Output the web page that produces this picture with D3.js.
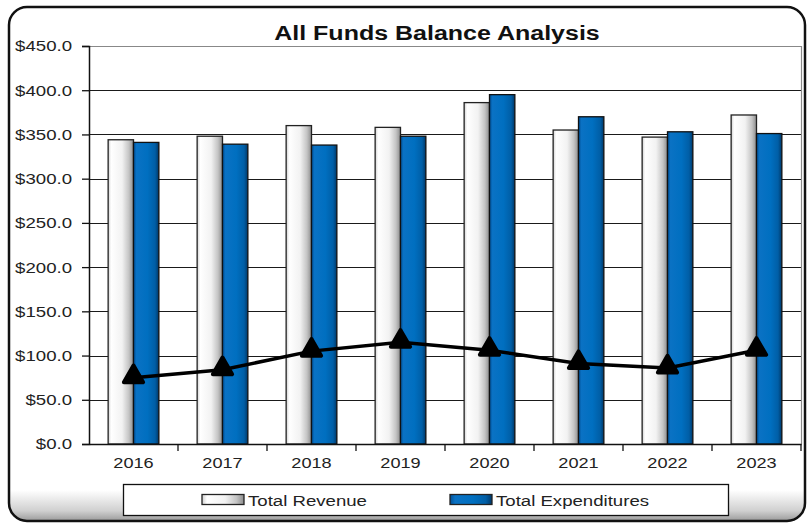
<!DOCTYPE html>
<html>
<head>
<meta charset="utf-8">
<script src="https://cdn.jsdelivr.net/npm/d3@7"></script>
<style>
  body { margin: 0; background: #fff; }
  svg { display: block; font-family: "Liberation Sans", Arial, sans-serif; }
</style>
</head>
<body>
<div id="chart"></div>
<script>
// Chart values
const years = ["2016", "2017", "2018", "2019", "2020", "2021", "2022", "2023"];
const revenue = [344, 348, 360, 358, 386, 355, 347, 372];
const expenditures = [341, 339, 338, 348, 395, 370, 353, 351];
const balance = [75, 84, 105, 115, 106, 91, 86, 106];
const seriesNames = ["Total Revenue", "Total Expenditures"];
const yTicks = [0, 50, 100, 150, 200, 250, 300, 350, 400, 450];

const width = 809, height = 525;
const plot = {left: 89, right: 801, top: 46, bottom: 444};

// stretch text sideways like the original picture
const stretch = function(sel, k) {
  sel.each(function() {
    let w = this.getComputedTextLength();
    d3.select(this).attr("textLength", w * k).attr("lengthAdjust", "spacingAndGlyphs");
  });
};

const svg = d3.select("#chart").append("svg")
  .attr("width", width)
  .attr("height", height);

const defs = svg.append("defs");
// cylinder-like shading for the bars
const gradRev = defs.append("linearGradient").attr("id", "gradRev");
[["0%", "#cfcfcf"], ["12%", "#ffffff"], ["55%", "#f2f2f2"], ["82%", "#c4c4c4"], ["100%", "#8c8c8c"]]
  .forEach(s => gradRev.append("stop").attr("offset", s[0]).attr("stop-color", s[1]));
const gradExp = defs.append("linearGradient").attr("id", "gradExp");
[["0%", "#004f96"], ["12%", "#0a72c4"], ["55%", "#006fc0"], ["85%", "#005ea6"], ["100%", "#003868"]]
  .forEach(s => gradExp.append("stop").attr("offset", s[0]).attr("stop-color", s[1]));
const gradFrame = defs.append("linearGradient").attr("id", "gradFrame")
  .attr("x1", 0).attr("y1", 0).attr("x2", 0).attr("y2", 1);
[["0%", "#ffffff"], ["94%", "#ffffff"], ["98%", "#d0d0d0"], ["100%", "#9a9a9a"]]
  .forEach(s => gradFrame.append("stop").attr("offset", s[0]).attr("stop-color", s[1]));

// outer rounded frame
svg.append("rect")
  .attr("x", 9).attr("y", 7)
  .attr("width", 796).attr("height", 514)
  .attr("rx", 18).attr("ry", 18)
  .attr("fill", "url(#gradFrame)")
  .attr("stroke", "#111")
  .attr("stroke-width", 2.5);

// title
svg.append("text")
  .attr("x", 437).attr("y", 40)
  .attr("text-anchor", "middle")
  .style("font-size", "20px")
  .style("font-weight", "bold")
  .attr("fill", "#111")
  .text("All Funds Balance Analysis")
  .call(stretch, 1.25);

// scales
const x0 = d3.scaleBand()
  .domain(years)
  .range([plot.left, plot.right])
  .paddingInner(0.43)
  .paddingOuter(0.215);
const x1 = d3.scaleBand()
  .domain(seriesNames)
  .range([0, x0.bandwidth()]);
const y = d3.scaleLinear()
  .domain([0, 450])
  .range([plot.bottom, plot.top]);

// gridlines
svg.append("g")
  .selectAll("line")
  .data(yTicks.filter(d => d > 0 && d < 450))
  .join("line")
  .attr("x1", plot.left).attr("x2", plot.right)
  .attr("y1", d => Math.round(y(d)) + 0.5).attr("y2", d => Math.round(y(d)) + 0.5)
  .attr("stroke", "#1a1a1a")
  .attr("stroke-width", 1.2);
// plot border top / right
svg.append("path")
  .attr("d", `M${plot.left},${y(450) + 0.5}H${plot.right + 0.5}V${plot.bottom}`)
  .attr("fill", "none")
  .attr("stroke", "#888")
  .attr("stroke-width", 1.2);

// bars
const groups = svg.append("g")
  .selectAll("g")
  .data(years)
  .join("g")
  .attr("transform", d => `translate(${x0(d)},0)`);
groups.append("rect")
  .attr("x", x1("Total Revenue"))
  .attr("y", (d, i) => y(revenue[i]))
  .attr("width", x1.bandwidth())
  .attr("height", (d, i) => y(0) - y(revenue[i]))
  .attr("fill", "url(#gradRev)")
  .attr("stroke", "#222")
  .attr("stroke-width", 1.3);
groups.append("rect")
  .attr("x", x1("Total Expenditures"))
  .attr("y", (d, i) => y(expenditures[i]))
  .attr("width", x1.bandwidth())
  .attr("height", (d, i) => y(0) - y(expenditures[i]))
  .attr("fill", "url(#gradExp)")
  .attr("stroke", "#111")
  .attr("stroke-width", 1.3);

// y axis
const yAxis = svg.append("g")
  .attr("transform", `translate(${plot.left},0)`)
  .call(d3.axisLeft(y).tickValues(yTicks).tickSize(7).tickPadding(10)
    .tickFormat(d => "$" + d3.format(".1f")(d)));
yAxis.select(".domain").attr("stroke", "#111").attr("stroke-width", 1.5);
yAxis.selectAll(".tick line").attr("stroke", "#111").attr("stroke-width", 1.3);
yAxis.selectAll("text")
  .style("font-size", "15.5px")
  .attr("fill", "#222")
  .call(stretch, 1.2);

// x axis
const xAxis = svg.append("g")
  .attr("transform", `translate(0,${plot.bottom})`)
  .call(d3.axisBottom(x0).tickSize(0).tickPadding(13));
xAxis.select(".domain").attr("stroke", "#111").attr("stroke-width", 1.5);
xAxis.selectAll("text")
  .style("font-size", "15.5px")
  .attr("fill", "#222")
  .call(stretch, 1.17);
// category separator ticks
xAxis.selectAll(".sep")
  .data(years)
  .join("line")
  .attr("class", "sep")
  .attr("x1", d => x0(d) - x0.step() * x0.paddingOuter() + x0.step())
  .attr("x2", d => x0(d) - x0.step() * x0.paddingOuter() + x0.step())
  .attr("y1", 0).attr("y2", 7)
  .attr("stroke", "#111")
  .attr("stroke-width", 1.3);

// balance line with triangle markers
const line = d3.line()
  .x((d, i) => x0(years[i]) + x0.bandwidth() / 2)
  .y(d => y(d));
svg.append("path")
  .attr("d", line(balance))
  .attr("fill", "none")
  .attr("stroke", "#000")
  .attr("stroke-width", 3.5);
svg.append("g")
  .selectAll("path")
  .data(balance)
  .join("path")
  .attr("transform", (d, i) => `translate(${x0(years[i]) + x0.bandwidth() / 2},${y(d) - 1})`)
  .attr("d", d3.symbol(d3.symbolTriangle, 160))
  .attr("fill", "#000")
  .attr("stroke", "#000")
  .attr("stroke-width", 4)
  .attr("stroke-linejoin", "round");

// legend
const legend = svg.append("g");
legend.append("rect")
  .attr("x", 123.5).attr("y", 484.5)
  .attr("width", 605).attr("height", 31)
  .attr("fill", "#fff")
  .attr("stroke", "#111")
  .attr("stroke-width", 1.3);
const legendX = [202, 450];
const legendFill = ["url(#gradRev)", "url(#gradExp)"];
seriesNames.forEach((name, i) => {
  legend.append("rect")
    .attr("x", legendX[i]).attr("y", 494.5)
    .attr("width", 42).attr("height", 10)
    .attr("fill", legendFill[i])
    .attr("stroke", "#222")
    .attr("stroke-width", 1.3);
  legend.append("text")
    .attr("x", legendX[i] + 46).attr("y", 505.5)
    .style("font-size", "15.5px")
    .attr("fill", "#222")
    .text(name)
    .call(stretch, 1.2);
});
</script>
</body>
</html>
